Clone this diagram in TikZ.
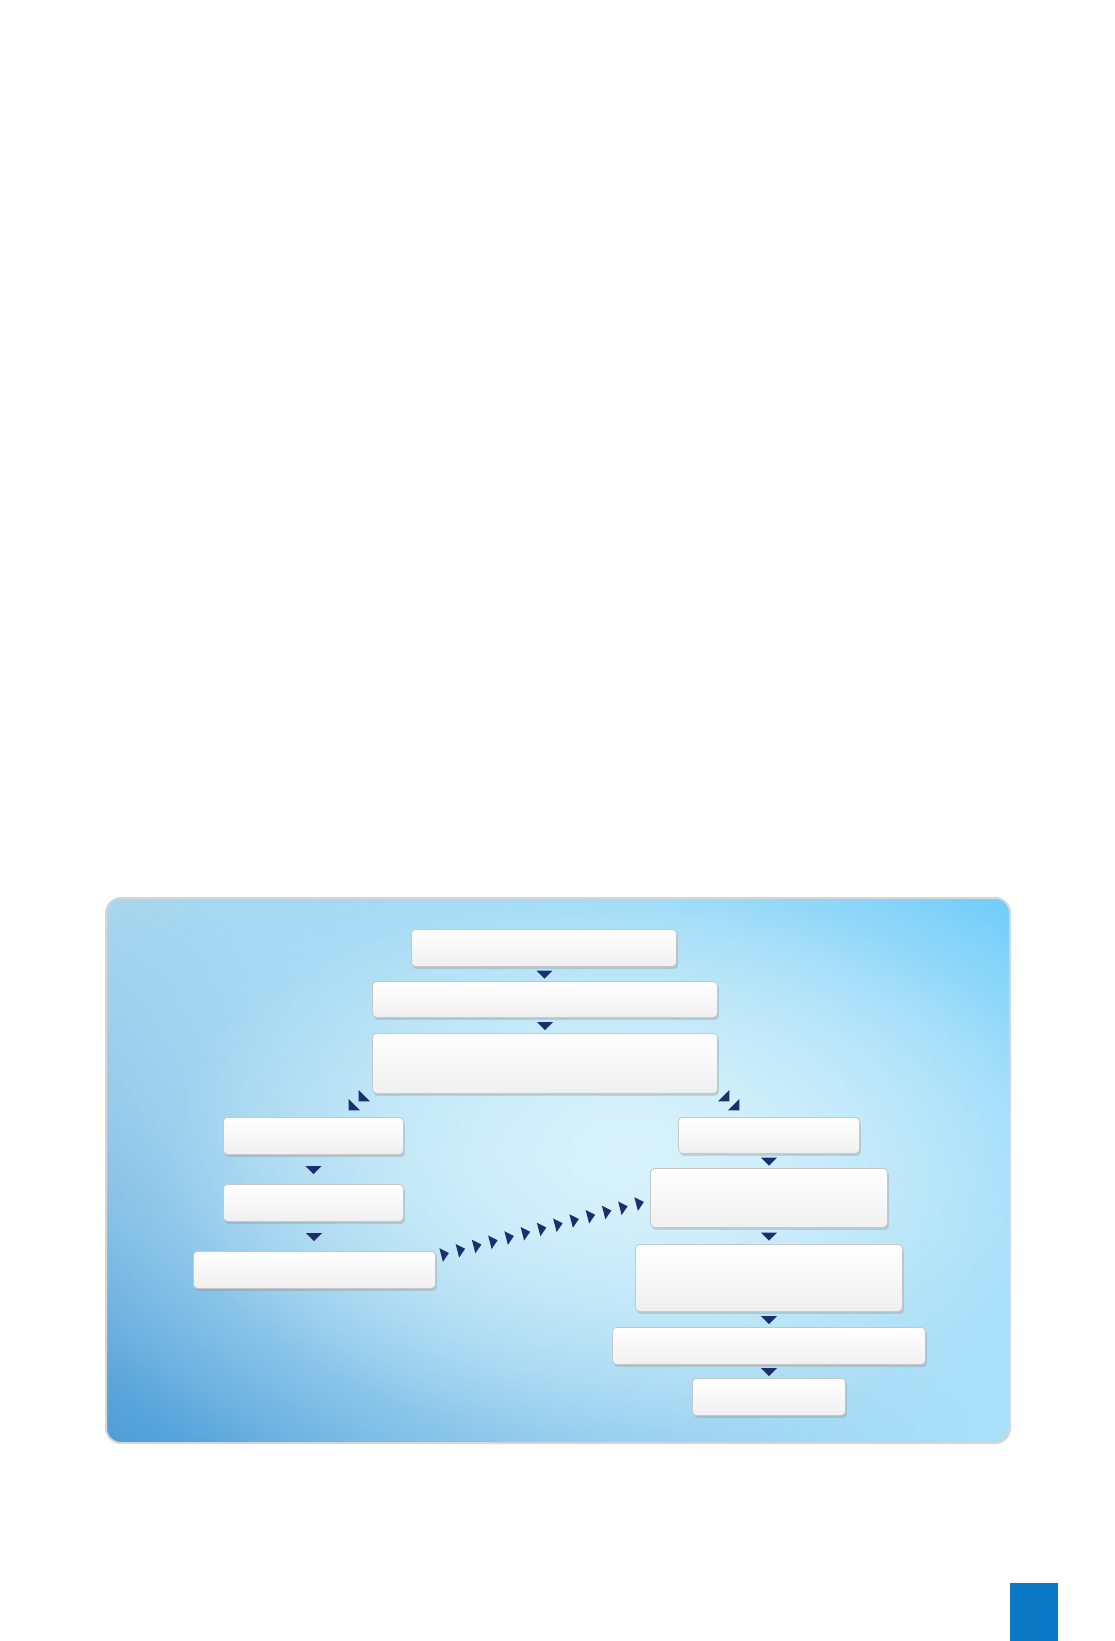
\documentclass[tikz,border=0pt]{standalone}
\usetikzlibrary{shapes.geometric,shadows,shadings,fadings,calc}
\definecolor{navy}{HTML}{1B2F6E}
\definecolor{bgUL}{HTML}{AAD8EF}
\definecolor{bgUR}{HTML}{5EC6FA}
\definecolor{bgLL}{HTML}{4F9ED8}
\definecolor{bgLR}{HTML}{A8E0F8}
\definecolor{bgC}{HTML}{D8F3FC}
\definecolor{pagebar}{HTML}{0A78C4}
\tikzfading[name=softfade, inner color=transparent!0, outer color=transparent!100]
\begin{document}
\begin{tikzpicture}[x=1pt,y=-1pt,
  box/.style={draw=black!22, line width=0.8pt, rounded corners=4pt,
    top color=white, bottom color=black!6, inner sep=0pt, anchor=north west,
    drop shadow={opacity=0.28, shadow xshift=1.5pt, shadow yshift=-2.5pt}},
  tip/.style={isosceles triangle, isosceles triangle stretches, minimum width=16pt,
    minimum height=8pt, inner sep=0pt, outer sep=0pt, fill=navy, draw=none},
  pics/chtip/.style={code={\fill[navy] (-4,-7) -- (4,0) -- (-4,7) -- cycle;}}
]
\useasboundingbox (0,0) rectangle (1115,1641);
\fill[white] (0,0) rectangle (1115,1641);

% panel background
\begin{scope}
  \clip[rounded corners=15pt] (106,898) rectangle (1010,1443);
  \shade[upper left=bgUL, upper right=bgUR, lower left=bgLL, lower right=bgLR]
    (106,898) rectangle (1010,1443);
  \fill[bgC, path fading=softfade] (630,1150) ellipse [x radius=640, y radius=400];
  \fill[bgC, path fading=softfade, opacity=0.75] (620,1160) ellipse [x radius=460, y radius=280];
\end{scope}
\draw[rounded corners=15pt, line width=2pt, draw=black!16] (106,898) rectangle (1010,1443);

% page marker
\fill[pagebar] (1010,1583) rectangle (1058,1641);

% boxes
\node[box, minimum width=265pt, minimum height=37pt] (t1) at (411,929) {};
\node[box, minimum width=345pt, minimum height=36pt] (t2) at (372,981) {};
\node[box, minimum width=345pt, minimum height=60pt] (t3) at (372,1033) {};
\node[box, minimum width=180pt, minimum height=37pt] (L1) at (223,1117) {};
\node[box, minimum width=180pt, minimum height=37pt] (L2) at (223,1184) {};
\node[box, minimum width=242pt, minimum height=37pt] (L3) at (193,1251) {};
\node[box, minimum width=181pt, minimum height=36pt] (R1) at (678,1117) {};
\node[box, minimum width=237pt, minimum height=59pt] (R2) at (650,1168) {};
\node[box, minimum width=267pt, minimum height=67pt] (R3) at (635,1244) {};
\node[box, minimum width=313pt, minimum height=37pt] (R4) at (612,1327) {};
\node[box, minimum width=153pt, minimum height=37pt] (R5) at (692,1378) {};

% vertical connectors
\foreach \a/\b in {t1/t2, t2/t3, L1/L2, L2/L3, R1/R2, R2/R3, R3/R4, R4/R5}
  \path (\a.south) -- node[tip, rotate=-90] {} (\b.north);

% diagonal pairs
\coordinate (dlA) at (362,1098);
\coordinate (dlB) at (352,1107);
\coordinate (drA) at (726,1098);
\coordinate (drB) at (736,1107);
\path (dlA) -- (dlB) node[pos=0, tip, rotate=-135] {} node[pos=1, tip, rotate=-135] {};
\path (drA) -- (drB) node[pos=0, tip, rotate=-45] {} node[pos=1, tip, rotate=-45] {};

% dotted chain from L3 to R2
\coordinate (ch0) at (445,1254);
\coordinate (ch1) at (640,1203);
\foreach \i in {0,...,12}
  \path ($(ch0)!\i/12!(ch1)$) pic[rotate=14.4] {chtip};
\end{tikzpicture}
\end{document}
